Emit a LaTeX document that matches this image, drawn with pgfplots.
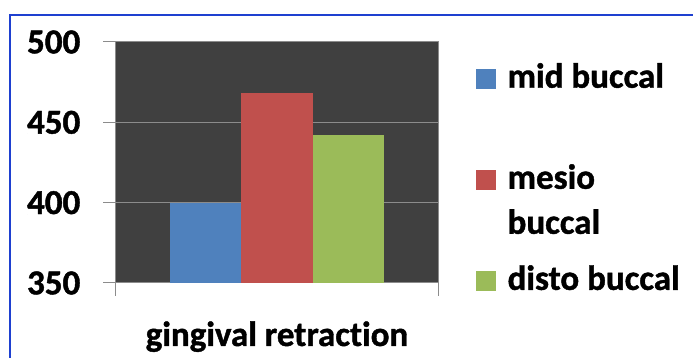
\documentclass[border=0pt]{standalone}
\usepackage{fontspec}
\setmainfont{Carlito}[Ligatures=NoCommon, BoldFeatures={FakeBold=1.2}]
\usepackage{pgfplots}
\pgfplotsset{compat=1.18}
\definecolor{cblue}{HTML}{4F81BD}
\definecolor{cred}{HTML}{C0504D}
\definecolor{cgreen}{HTML}{9BBB59}
\definecolor{bgdark}{HTML}{404040}
\definecolor{gridc}{HTML}{8C8C8C}
\definecolor{framec}{HTML}{1E40D0}
\begin{document}
\begin{tikzpicture}
\path[use as bounding box] (-116pt,-75pt) rectangle (577pt,283pt);
\draw[framec, line width=1.5pt] (-106pt,-90pt) -- (-106pt,268pt) -- (590pt,268pt);
\begin{axis}[
  at={(0pt,0pt)}, anchor=south west,
  scale only axis, width=322pt, height=241pt,
  ybar, bar width=71.5pt,
  xmin=-0.5, xmax=0.5, ymin=350, ymax=500,
  xtick={-0.5,0.5}, xticklabels={,},
  ytick={350,400,450,500},
  xtick pos=bottom, ytick pos=left,
  tick align=outside, major tick length=12.5pt,
  tick style={gridc, line width=1pt},
  axis line style={gridc, line width=1pt},
  axis background/.style={fill=bgdark},
  ymajorgrids, grid style={gridc, line width=1pt},
  /pgf/number format/assume math mode=true,
  ticklabel style={font=\fontsize{35}{42}\selectfont\bfseries},
  yticklabel style={inner sep=0pt, xshift=-23pt},
  xlabel={gingival retraction},
  xlabel style={at={(axis description cs:0.5,0)}, anchor=base, yshift=-63pt, inner sep=0pt, font=\fontsize{35}{42}\selectfont\bfseries},
  legend style={at={(1.118,0.913)}, anchor=north west, draw=none, fill=none, inner sep=0pt,
    row sep=75pt, column sep=12pt,
    font=\fontsize{35}{45}\selectfont\bfseries,
    nodes={inner sep=0pt}, cells={anchor=base west}},
]
\addplot[fill=cblue, draw=none, bar shift=-71.5pt, forget plot] coordinates {(0,400)};
\addplot[fill=cred, draw=none, bar shift=0pt, forget plot] coordinates {(0,468)};
\addplot[fill=cgreen, draw=none, bar shift=71.5pt, forget plot] coordinates {(0,442)};
\addlegendimage{legend image code/.code={\fill[cblue] (0pt,0pt) rectangle (19pt,19pt);}}
\addlegendentry{mid buccal}
\addlegendimage{legend image code/.code={\fill[cred] (0pt,0pt) rectangle (19pt,19pt);}}
\addlegendentry{\raisebox{0pt}[\height][0pt]{\vtop{\hbox{mesio}\hbox{buccal}}}}
\addlegendimage{legend image code/.code={\fill[cgreen] (0pt,0pt) rectangle (19pt,19pt);}}
\addlegendentry{disto buccal}
\end{axis}
\end{tikzpicture}
\end{document}
